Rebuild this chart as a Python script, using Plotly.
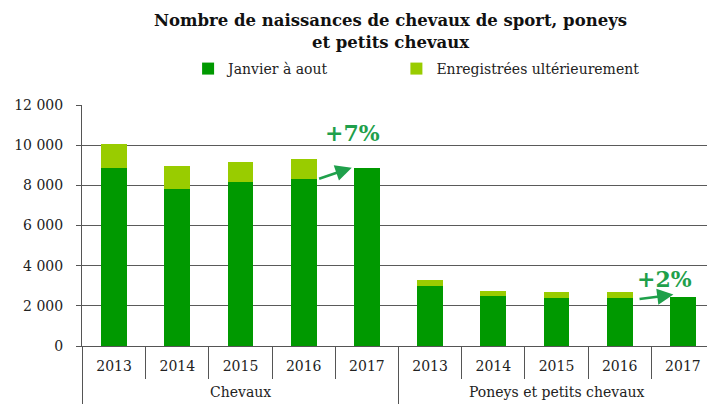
import plotly.graph_objects as go

group_names = ["Chevaux", "Poneys et petits chevaux"]
groups = ["Chevaux"] * 5 + ["Poneys et petits chevaux"] * 5
years = ["2013", "2014", "2015", "2016", "2017"] * 2
categories = [g + " " + y for g, y in zip(groups, years)]
janvier_aout = [8880, 7820, 8150, 8300, 8880, 2990, 2470, 2400, 2400, 2450]
ulterieur = [1190, 1160, 1010, 1010, 0, 280, 280, 270, 270, 0]
y_ticks = [0, 2000, 4000, 6000, 8000, 10000, 12000]
y_ticklabels = ["0", "2 000", "4 000", "6 000", "8 000", "10 000", "12 000"]

FONT = "DejaVu Serif"
ANN = "#1fa04b"
LINE = "#555555"

# the page body adds an 8px offset, so the figure is 8px smaller on each axis
fig = go.Figure()
fig.add_trace(go.Bar(x=categories, y=janvier_aout, name="Janvier à aout" + "\u00a0" * 14,
                     marker=dict(color="#009900", line=dict(width=0))))
fig.add_trace(go.Bar(x=categories, y=ulterieur, name="Enregistrées ultérieurement",
                     marker=dict(color="#99cc00", line=dict(width=0))))

fig.update_layout(
    width=707, height=396,
    barmode="stack", bargap=0.59,
    plot_bgcolor="white", paper_bgcolor="white",
    margin=dict(l=74, r=0, t=97, b=58, autoexpand=False),
    font=dict(family=FONT, size=14, color="#222"),
    title=dict(text="<b>Nombre de naissances de chevaux de sport, poneys<br>et petits chevaux</b>",
               x=0.541, xanchor="center", y=0.954, yanchor="top",
               font=dict(family=FONT, size=16.5, color="#111")),
    legend=dict(orientation="h", x=0.1676, xanchor="left", y=0.846, yanchor="middle",
                yref="container", font=dict(family=FONT, size=14),
                itemwidth=30, traceorder="normal"),
    showlegend=True,
)
fig.update_yaxes(range=[0, 12000], tickvals=y_ticks, ticktext=y_ticklabels,
                 showgrid=True, gridcolor="#5a5a5a", gridwidth=1,
                 showline=True, linecolor=LINE, linewidth=1,
                 ticks="outside", ticklen=5, tickcolor=LINE, ticklabelstandoff=10,
                 zeroline=False, automargin=False, tickfont=dict(family=FONT, size=14))
fig.update_xaxes(type="category", tickvals=categories, ticktext=years,
                 showline=True, linecolor=LINE, linewidth=1,
                 ticks="outside", tickson="boundaries", ticklen=32, tickcolor=LINE,
                 ticklabelstandoff=7, automargin=False,
                 tickfont=dict(family=FONT, size=14))

# group labels and dividers
for i, name in enumerate(group_names):
    fig.add_annotation(x=2 + 5 * i, y=-46 / 241, xref="x", yref="paper", text=name,
                       showarrow=False, yanchor="middle",
                       font=dict(family=FONT, size=14, color="#222"))
for xb in [-0.5, 4.5, 9.5]:
    fig.add_shape(type="line", x0=xb, x1=xb, y0=0, y1=-0.3, xref="x", yref="paper",
                  line=dict(color=LINE, width=1))

# annotations
fig.add_annotation(x=3.77, y=10600, text="<b>+7%</b>", showarrow=False,
                   font=dict(family=FONT, size=22, color=ANN))
fig.add_annotation(x=8.71, y=3340, text="<b>+2%</b>", showarrow=False,
                   font=dict(family=FONT, size=22, color=ANN))
fig.add_annotation(x=3.76, y=8880, ax=3.22, ay=8300, axref="x", ayref="y",
                   text="", showarrow=True, arrowhead=2, arrowsize=1.3, arrowwidth=2.5,
                   arrowcolor=ANN)
fig.add_annotation(x=8.85, y=2560, ax=8.29, ay=2330, axref="x", ayref="y",
                   text="", showarrow=True, arrowhead=2, arrowsize=1.3, arrowwidth=2.5,
                   arrowcolor=ANN)

fig.write_html("out.html")
